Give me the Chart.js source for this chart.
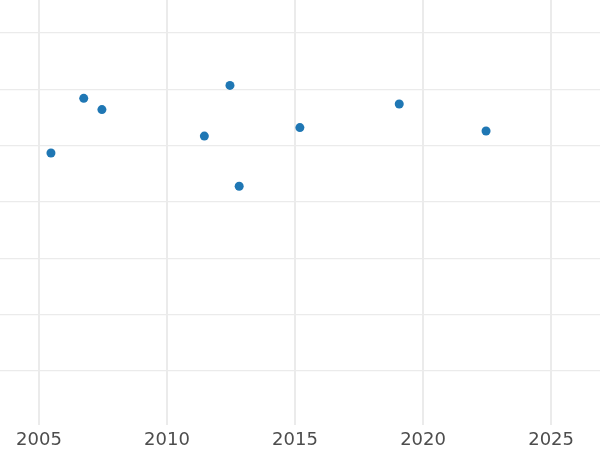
<!DOCTYPE html>
<html>
<head>
<meta charset="utf-8">
<script src="https://cdn.jsdelivr.net/npm/chart.js@4"></script>
<style>
  html, body { margin: 0; padding: 0; background: #ffffff; }
  #wrap { width: 600px; height: 450px; }
</style>
</head>
<body>
<div id="wrap"><canvas id="my-canvas"></canvas></div>
<script>
// values
let years = [2005.47, 2006.75, 2007.46, 2011.46, 2012.46, 2012.82, 2015.19, 2019.07, 2022.46];
let values = [4.87, 5.84, 5.64, 5.17, 6.07, 4.28, 5.32, 5.74, 5.26];
let x_ticks = [2005, 2010, 2015, 2020, 2025];
let y_grid = [1, 2, 3, 4, 5, 6, 7];

let points = [];
for (let i = 0; i < years.length; i++) {
    points.push({ x: years[i], y: values[i] });
}

let ctx = document.getElementById('my-canvas');
let chart = new Chart(ctx, {
    type: 'scatter',
    data: {
        datasets: [{
            data: points,
            backgroundColor: '#1f77b4',
            borderColor: '#1f77b4',
            borderWidth: 0,
            pointRadius: 4.5
        }]
    },
    options: {
        responsive: true,
        maintainAspectRatio: false,
        animation: false,
        // labels sit a bit low in the original, so let the axis box run past the bottom edge
        layout: { padding: { top: 0, left: 0, right: 0, bottom: -6 }, autoPadding: false },
        plugins: {
            legend: { display: false },
            tooltip: { enabled: false }
        },
        scales: {
            x: {
                type: 'linear',
                min: 2003.48,
                max: 2026.91,
                border: { display: false },
                grid: { color: '#ebebeb', lineWidth: 2, drawTicks: false },
                afterBuildTicks: (axis) => {
                    axis.ticks = x_ticks.map(v => ({ value: v }));
                },
                ticks: {
                    padding: 4.7,
                    color: '#4d4d4d',
                    font: { family: 'DejaVu Sans', size: 18, lineHeight: 1.2 },
                    callback: (v) => String(v)
                }
            },
            y: {
                type: 'linear',
                min: 0.04,
                max: 7.586,
                border: { display: false },
                grid: { color: '#ebebeb', lineWidth: 1.3, drawTicks: false },
                afterBuildTicks: (axis) => {
                    axis.ticks = y_grid.map(v => ({ value: v }));
                },
                ticks: { display: false }
            }
        }
    }
});
</script>
</body>
</html>
